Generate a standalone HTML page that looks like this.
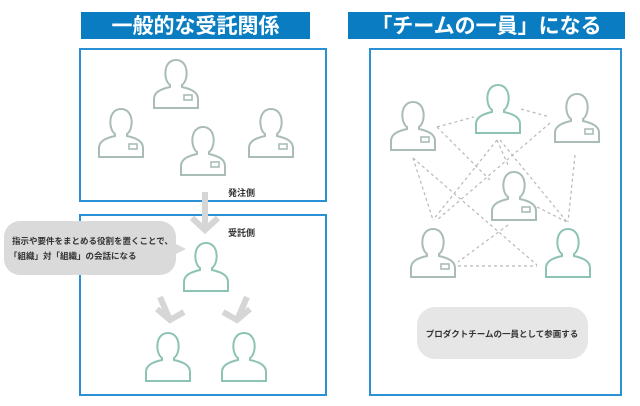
<!DOCTYPE html>
<html><head><meta charset="utf-8"><style>
body{margin:0;width:640px;height:406px;background:#fff;overflow:hidden;font-family:"Liberation Sans","Noto Sans CJK JP",sans-serif;}
</style></head><body>
<svg width="640" height="406" viewBox="0 0 640 406" xmlns="http://www.w3.org/2000/svg" style="position:absolute;left:0;top:0">
<defs>
<g id="pg">
<path d="M17,28 C10,23 10,3 23,3 C36,3 36,23 29,28 L29,30 C38,32 45,35 45,42 L45,51 L1,51 L1,42 C1,35 8,32 17,30 Z" fill="none" stroke="#a9bdb5" stroke-width="2"/>
<rect x="31" y="38" width="8" height="5" fill="none" stroke="#a9bdb5" stroke-width="1.6"/>
</g>
<g id="pgr">
<path d="M17,28 C10,23 10,3 23,3 C36,3 36,23 29,28 L29,30 C38,32 45,35 45,42 L45,51 L1,51 L1,42 C1,35 8,32 17,30 Z" fill="none" stroke="#8dc3b5" stroke-width="2"/>
</g>
</defs>
<rect x="81" y="12" width="229" height="27" fill="#0a7dc2"/>
<text x="195.5" y="33" text-anchor="middle" fill="#fff" font-size="21" font-weight="bold" font-family="Liberation Sans, Noto Sans CJK JP, sans-serif">一般的な受託関係</text>
<rect x="348" y="12" width="277" height="27" fill="#0a7dc2"/>
<text x="486.5" y="33" text-anchor="middle" fill="#fff" font-size="21" font-weight="bold" font-family="Liberation Sans, Noto Sans CJK JP, sans-serif">「チームの一員」になる</text>

<rect x="80" y="49" width="246" height="152" fill="none" stroke="#2a92d4" stroke-width="2"/>
<rect x="80" y="215" width="246" height="180" fill="none" stroke="#2a92d4" stroke-width="2"/>
<rect x="370" y="49" width="251" height="346" fill="none" stroke="#2a92d4" stroke-width="2"/>

<use href="#pg" x="153" y="57"/>
<use href="#pg" x="98" y="106"/>
<use href="#pg" x="180" y="124"/>
<use href="#pg" x="248" y="106"/>

<text x="228" y="196" font-size="9" font-weight="bold" fill="#333" font-family="Liberation Sans, Noto Sans CJK JP, sans-serif">発注側</text>
<text x="228" y="236" font-size="9" font-weight="bold" fill="#333" font-family="Liberation Sans, Noto Sans CJK JP, sans-serif">受託側</text>

<g stroke="#d6d6d6" stroke-width="6" fill="none" stroke-linecap="butt">
<line x1="205" y1="192" x2="205" y2="230"/>
<polyline points="192,218 205,230 218,218"/>
<line x1="160" y1="297" x2="170" y2="320"/>
<polyline points="157,309 170,320 184,312"/>
<line x1="247" y1="297" x2="237" y2="320"/>
<polyline points="223,312 237,320 250,309"/>
</g>

<path d="M20,221 H160 A16,16 0 0 1 176,237 V244 L186,249 L176,254 V259 A16,16 0 0 1 160,275 H20 A16,16 0 0 1 4,259 V237 A16,16 0 0 1 20,221 Z" fill="#dadada"/>
<text x="12" y="244" font-size="8.5" font-weight="bold" fill="#333" font-family="Liberation Sans, Noto Sans CJK JP, sans-serif">指示や要件をまとめる役割を置くことで、</text>
<text x="9" y="259" font-size="8.5" font-weight="bold" fill="#333" font-family="Liberation Sans, Noto Sans CJK JP, sans-serif">「組織」対「組織」の会話になる</text>

<use href="#pgr" x="183" y="240"/>
<use href="#pgr" x="145" y="330"/>
<use href="#pgr" x="221" y="330"/>

<g stroke="#b8b8b8" stroke-width="1.2" stroke-dasharray="3,3" fill="none">
<line x1="437" y1="127" x2="474" y2="117"/>
<line x1="521" y1="109" x2="550" y2="117"/>
<line x1="437" y1="127" x2="490" y2="180"/>
<line x1="413" y1="158" x2="433" y2="220"/>
<line x1="413" y1="158" x2="537" y2="265"/>
<line x1="497" y1="140" x2="433" y2="220"/>
<line x1="497" y1="140" x2="508" y2="165"/>
<line x1="500" y1="140" x2="567" y2="222"/>
<line x1="550" y1="123" x2="437" y2="220"/>
<line x1="575" y1="155" x2="568" y2="222"/>
<line x1="537" y1="207" x2="567" y2="222"/>
<line x1="508" y1="225" x2="458" y2="262"/>
<line x1="458" y1="266" x2="537" y2="266"/>
</g>

<use href="#pg" x="390" y="99"/>
<use href="#pgr" x="475" y="82"/>
<use href="#pg" x="554" y="91"/>
<use href="#pg" x="491" y="169"/>
<use href="#pg" x="410" y="226"/>
<use href="#pgr" x="545" y="226"/>

<rect x="417" y="307" width="171" height="52" rx="18" fill="#e6e6e6"/>
<text x="502" y="337" text-anchor="middle" font-size="8.5" font-weight="bold" fill="#333" font-family="Liberation Sans, Noto Sans CJK JP, sans-serif">プロダクトチームの一員として参画する</text>
</svg>
</body></html>
